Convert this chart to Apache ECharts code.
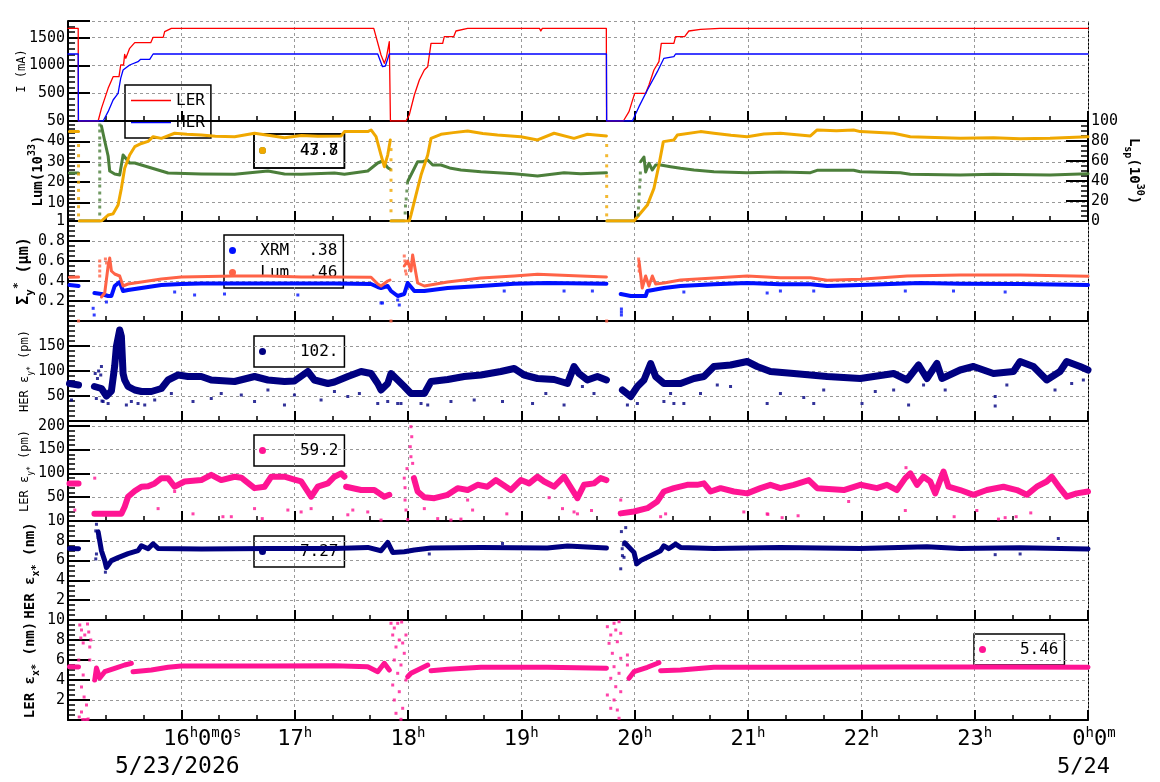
<!DOCTYPE html>
<html>
<head>
<meta charset="utf-8">
<script src="https://cdn.jsdelivr.net/npm/echarts@6.0.0/dist/echarts.min.js"></script>
<style>
html, body { margin: 0; padding: 0; background: #fff; }
#chart { width: 1160px; height: 782px; }
</style>
</head>
<body>
<div id="chart"></div>
<script>
// time is in hours of 5/23 (24 = 0h of 5/24)
const FONT = 'DejaVu Sans Mono'

// panel 1: beam currents (mA)
const lerCurrent = [[15,1668],[15.09,1668],[15.092,0],[15.266,0],[15.295,228],[15.354,588],[15.398,798],[15.45,800],[15.465,1008],[15.49,1010],[15.5,1200],[15.51,1130],[15.544,1308],[15.589,1410],[15.73,1410],[15.751,1506],[15.84,1506],[15.853,1608],[15.912,1668],[17.698,1668],[17.762,1188],[17.791,1038],[17.81,1150],[17.835,1428],[17.842,1420],[17.845,0],[17.982,0],[18.011,108],[18.056,468],[18.1,738],[18.144,918],[18.174,978],[18.203,1398],[18.306,1398],[18.32,1518],[18.403,1518],[18.423,1620],[18.526,1668],[19.16,1668],[19.172,1620],[19.185,1668],[19.75,1668],[19.752,0],[19.9,0],[19.95,168],[20,498],[20.097,498],[20.126,648],[20.17,918],[20.214,1068],[20.235,1398],[20.346,1398],[20.361,1518],[20.441,1518],[20.478,1620],[20.581,1650],[20.75,1668],[23.42,1668],[23.427,1640],[23.44,1668],[24,1668]]
const herCurrent = [[15,1206],[15.09,1206],[15.092,0],[15.31,0],[15.354,168],[15.398,378],[15.442,498],[15.465,768],[15.486,918],[15.544,1008],[15.618,1068],[15.641,1110],[15.721,1110],[15.751,1206],[17.733,1206],[17.775,978],[17.8,990],[17.835,1206],[19.751,1206],[19.753,0],[19.98,0],[20.038,258],[20.112,558],[20.2,888],[20.258,1128],[20.346,1158],[20.361,1206],[24,1206]]

// panel 2: luminosity (left) and specific luminosity (right)
const lum = [[15.013,44.8],[15.093,44.8],[15.095,null],[15.1,1],[15.295,1],[15.354,3.9],[15.398,4.5],[15.442,8.8],[15.471,17],[15.5,26.8],[15.544,33.3],[15.589,37.4],[15.648,39],[15.707,40],[15.751,42.3],[15.824,41.5],[15.941,44],[16.05,43.5],[16.176,43.1],[16.3,42.5],[16.47,42.3],[16.646,44],[16.78,42.9],[16.91,41.8],[17.06,42.9],[17.204,42.5],[17.41,42.7],[17.439,44.8],[17.645,44.8],[17.674,45.6],[17.718,42.3],[17.762,33.3],[17.791,27.6],[17.821,33.3],[17.844,40.7],[17.847,null],[17.85,1],[18.011,1],[18.026,3.9],[18.07,13.7],[18.115,23.5],[18.174,33.3],[18.203,41.5],[18.291,43.5],[18.4,44.3],[18.526,45.1],[18.66,43.9],[18.79,43.1],[18.996,42.3],[19.143,40.7],[19.289,44],[19.465,41.5],[19.583,43.5],[19.751,42.7],[19.753,null],[19.755,1],[19.994,1],[20.038,3.9],[20.112,8.8],[20.17,17],[20.214,28.4],[20.253,39.9],[20.346,40.7],[20.376,43.1],[20.581,44.8],[20.699,44],[20.85,43],[20.993,42.3],[21.14,43.6],[21.286,44],[21.551,42.7],[21.61,45.6],[21.78,45.2],[21.932,45.6],[21.991,44.8],[22.285,44],[22.432,42.3],[22.65,41.9],[22.872,41.5],[23.166,41.8],[23.4,41.3],[23.665,41.5],[24,42.3]]
const lsp = [[15.013,48],[15.093,48],[15.095,null],[15.1,0],[15.28,0],[15.282,null],[15.295,95],[15.324,80],[15.354,65],[15.368,50],[15.383,49],[15.412,47],[15.456,46],[15.486,66],[15.515,62],[15.544,58],[15.589,58],[15.736,53],[15.883,48],[16.176,47],[16.47,46.7],[16.764,50],[16.91,47],[17.057,46.7],[17.351,48],[17.439,46.7],[17.645,50],[17.733,58],[17.775,60],[17.821,53.3],[17.844,51.7],[17.847,null],[17.85,0],[17.967,0],[17.97,null],[17.999,40],[18.026,46],[18.056,52.7],[18.085,59.3],[18.13,59.3],[18.174,61],[18.218,56],[18.291,56],[18.379,52.7],[18.467,51],[18.643,49.3],[18.937,47.3],[19.143,45],[19.377,48.3],[19.524,47.3],[19.751,48.3],[19.753,null],[19.755,0],[19.991,0],[19.995,null],[20.053,59.3],[20.082,64],[20.097,49],[20.126,57.7],[20.156,51],[20.185,56],[20.229,56],[20.317,54.3],[20.405,52.7],[20.523,51],[20.699,49.3],[20.993,48.3],[21.286,49],[21.551,48.3],[21.61,50.7],[21.932,50.7],[21.991,49.3],[22.344,48.3],[22.432,46.7],[22.872,46],[23.166,46.7],[23.665,46],[24,47.3]]
const lumDrops = [[15.093,38],[15.093,33],[15.093,28],[15.093,24],[15.093,20],[15.093,16],[15.093,12],[15.093,8],[15.093,4],[17.85,36],[17.85,31],[17.85,26],[17.85,21],[17.85,16],[17.85,11],[17.85,6],[19.753,38],[19.753,33],[19.753,28],[19.753,23],[19.753,18],[19.753,13],[19.753,8],[19.753,4]]
const lspDrops = [[15.28,96],[15.28,90],[15.28,83],[15.28,76],[15.28,70],[15.28,63],[15.28,56],[15.28,49],[15.28,42],[15.28,35],[15.28,28],[15.28,21],[15.28,14],[15.28,7],[17.975,8],[17.978,15],[17.984,22],[17.99,30],[17.995,38],[20.03,6],[20.033,13],[20.036,20],[20.04,27],[20.044,34],[20.048,41],[20.05,48]]

// panel 3: vertical beam size (um)
const sigLum = [[15.013,0.437],[15.093,0.44],[15.095,null],[15.295,0.24],[15.324,0.28],[15.354,0.55],[15.368,0.63],[15.383,0.5],[15.412,0.47],[15.456,0.45],[15.486,0.35],[15.53,0.37],[15.648,0.39],[15.824,0.42],[16,0.44],[16.47,0.45],[16.764,0.45],[17.057,0.44],[17.351,0.44],[17.674,0.437],[17.733,0.37],[17.762,0.35],[17.821,0.4],[17.841,0.41],[17.845,null],[17.967,0.55],[17.997,0.6],[18.026,0.5],[18.041,0.66],[18.085,0.38],[18.144,0.35],[18.35,0.39],[18.643,0.43],[18.937,0.45],[19.143,0.467],[19.524,0.45],[19.751,0.44],[19.753,null],[20.038,0.6],[20.067,0.33],[20.097,0.45],[20.126,0.35],[20.156,0.45],[20.185,0.37],[20.258,0.38],[20.405,0.41],[20.699,0.43],[20.993,0.45],[21.286,0.433],[21.551,0.433],[21.698,0.407],[21.991,0.417],[22.403,0.45],[22.872,0.46],[23.401,0.46],[24,0.447]]
const sigXrm = [[15.013,0.36],[15.093,0.35],[15.095,null],[15.233,0.28],[15.295,0.27],[15.354,0.25],[15.383,0.25],[15.412,0.35],[15.456,0.39],[15.486,0.3],[15.53,0.31],[15.648,0.33],[15.824,0.36],[16,0.37],[16.176,0.375],[16.764,0.375],[17.351,0.375],[17.674,0.37],[17.733,0.34],[17.762,0.33],[17.821,0.35],[17.85,0.3],[17.909,0.25],[17.967,0.27],[17.997,0.38],[18.056,0.3],[18.144,0.3],[18.35,0.33],[18.643,0.35],[18.937,0.373],[19.229,0.38],[19.751,0.373],[19.753,null],[19.877,0.27],[19.965,0.25],[20.097,0.25],[20.112,0.3],[20.258,0.33],[20.405,0.35],[20.699,0.367],[20.993,0.38],[21.286,0.367],[21.551,0.367],[21.698,0.35],[21.991,0.36],[22.52,0.38],[22.872,0.373],[23.401,0.37],[24,0.36]]
const sigLumOut = [[15.28,0.6],[15.28,0.55],[15.28,0.5],[15.28,0.45],[15.33,0.62],[15.34,0.58],[17.967,0.65],[17.972,0.6],[17.978,0.5],[17.985,0.47],[20.035,0.62],[20.035,0.55],[20.04,0.5],[15.093,0],[17.85,0],[19.753,0]]
const sigXrmOut = [[15.222,0.127],[15.231,0.06],[15.339,0.19],[15.941,0.29],[16.117,0.26],[16.381,0.27],[17.028,0.26],[17.775,0.18],[17.909,0.21],[17.762,0.18],[17.923,0.16],[19.377,0.3],[19.627,0.3],[19.883,0.12],[19.883,0.06],[19.883,0.09],[18.849,0.3],[20.434,0.29],[21.169,0.28],[21.286,0.3],[21.58,0.3],[22.388,0.3],[22.813,0.3],[23.269,0.29]]

// panel 4: HER vertical emittance (pm)
const herEy = [[15.013,75],[15.093,72],[15.095,null],[15.233,69],[15.295,65],[15.339,50],[15.383,60],[15.412,110],[15.427,149],[15.456,182],[15.471,169],[15.486,95],[15.5,82],[15.53,69],[15.589,62],[15.648,59],[15.736,59],[15.824,65],[15.883,82],[15.971,92],[16.059,89],[16.176,89],[16.264,82],[16.47,79],[16.646,89],[16.764,82],[16.91,79],[16.998,80],[17.116,99],[17.174,82],[17.293,75],[17.351,78],[17.469,89],[17.586,99],[17.674,95],[17.733,75],[17.762,62],[17.821,75],[17.85,95],[17.909,82],[17.967,69],[18.026,55],[18.144,55],[18.203,79],[18.35,83],[18.496,89],[18.643,92],[18.819,99],[18.937,105],[19.025,92],[19.143,85],[19.289,83],[19.407,75],[19.465,109],[19.509,95],[19.583,82],[19.671,89],[19.751,82],[19.753,null],[19.892,62],[19.965,49],[20.024,69],[20.082,82],[20.141,115],[20.185,89],[20.258,75],[20.405,75],[20.523,85],[20.611,89],[20.699,109],[20.846,112],[20.993,119],[21.081,109],[21.198,99],[21.404,95],[21.698,89],[21.991,85],[22.285,95],[22.403,82],[22.505,112],[22.579,85],[22.667,115],[22.711,85],[22.872,102],[22.989,109],[23.166,95],[23.342,99],[23.401,119],[23.518,109],[23.636,82],[23.753,99],[23.812,119],[23.93,109],[24,102]]
const herEyOut = [[15.031,42],[15.295,109],[15.289,92],[15.31,39],[15.354,35],[15.515,32],[15.559,39],[15.618,35],[15.677,32],[15.765,42],[15.912,55],[16.103,39],[16.264,45],[16.352,55],[16.529,52],[16.646,39],[16.764,62],[16.91,32],[16.998,52],[17.233,42],[17.351,59],[17.469,49],[17.571,55],[17.733,35],[17.821,39],[17.909,35],[15.486,115],[17.938,35],[18.115,35],[18.174,32],[18.379,39],[18.584,42],[18.834,39],[19.099,35],[19.216,55],[19.377,32],[19.539,69],[19.641,55],[19.936,32],[20.024,35],[20.258,39],[20.346,35],[20.434,35],[20.581,55],[20.729,72],[20.846,69],[21.169,35],[21.286,55],[20.317,55],[21.492,47],[21.58,35],[21.668,62],[22.006,35],[22.123,59],[22.285,62],[22.417,32],[22.549,72],[22.74,62],[23.181,49],[23.181,30],[23.284,72],[23.709,62],[23.856,75],[23.959,82],[15.24,95],[15.26,85],[15.25,45],[15.27,100],[15.3,40]]

// panel 5: LER vertical emittance (pm)
const lerEy = [[15.013,79],[15.093,79],[15.095,null],[15.233,15],[15.383,15],[15.471,15],[15.5,30],[15.53,51],[15.589,63],[15.648,72],[15.707,73],[15.765,79],[15.824,90],[15.883,90],[15.941,72],[16.029,83],[16.176,86],[16.264,97],[16.352,86],[16.47,93],[16.529,91],[16.646,69],[16.734,72],[16.793,93],[16.91,93],[16.998,87],[17.057,83],[17.145,51],[17.204,72],[17.293,79],[17.351,93],[17.41,100],[17.439,93],[17.447,null],[17.454,72],[17.586,65],[17.703,65],[17.791,51],[17.835,55],[17.84,null],[18.052,90],[18.085,62],[18.144,50],[18.232,48],[18.35,55],[18.438,69],[18.526,65],[18.614,76],[18.7,72],[18.775,86],[18.907,65],[18.996,86],[19.069,79],[19.143,93],[19.201,83],[19.289,72],[19.377,93],[19.451,65],[19.495,48],[19.553,76],[19.641,79],[19.7,90],[19.751,86],[19.753,null],[19.877,16],[19.994,20],[20.112,27],[20.2,41],[20.258,62],[20.346,69],[20.464,76],[20.552,76],[20.611,79],[20.67,62],[20.758,69],[20.875,62],[20.993,58],[21.11,69],[21.198,76],[21.286,69],[21.404,76],[21.536,86],[21.61,69],[21.845,65],[21.991,76],[22.138,69],[22.226,76],[22.314,65],[22.388,90],[22.432,100],[22.491,76],[22.549,93],[22.608,83],[22.652,58],[22.725,104],[22.769,72],[22.872,65],[22.989,55],[23.107,65],[23.254,72],[23.372,65],[23.46,55],[23.548,72],[23.636,83],[23.68,93],[23.753,69],[23.812,51],[23.9,58],[24,62]]
const lerEyOut = [[18.026,198],[18.033,177],[18.02,156],[18.026,135],[18.041,121],[17.967,90],[17.974,70],[17.991,110],[17.974,44],[17.982,23],[17.997,3],[15.06,23],[15.236,90],[16.103,15],[16.367,9],[16.441,9],[16.646,26],[16.714,5],[16.94,23],[17.057,19],[17.145,26],[17.513,23],[17.645,19],[17.762,2],[17.469,13],[15.941,62],[15.795,26],[18.144,26],[18.262,5],[18.379,2],[18.467,4],[18.57,23],[18.872,15],[19.363,26],[19.465,19],[19.495,15],[19.619,22],[19.877,44],[20.229,9],[20.273,15],[20.963,19],[21.169,15],[19.245,49],[18.526,44],[21.175,14],[21.301,7],[21.442,11],[21.888,41],[22.388,22],[22.819,9],[23.019,22],[23.21,4],[23.269,7],[23.366,9],[23.495,17],[22.394,112]]

// panel 6: HER horizontal emittance (nm)
const herEx = [[15.013,7.23],[15.093,7.2],[15.095,null],[15.266,8.9],[15.295,7],[15.324,6],[15.339,5.3],[15.383,6],[15.442,6.3],[15.53,6.7],[15.618,7],[15.648,7.5],[15.707,7.2],[15.751,7.7],[15.795,7.23],[16.176,7.17],[16.764,7.23],[17.351,7.23],[17.645,7.33],[17.762,7],[17.821,7.83],[17.865,6.83],[17.967,6.9],[18.056,7.07],[18.203,7.27],[18.643,7.33],[19.229,7.27],[19.407,7.47],[19.751,7.27],[19.753,null],[19.912,7.8],[19.994,6.83],[20.018,5.67],[20.053,6],[20.141,6.5],[20.229,7],[20.258,7.5],[20.3,7.2],[20.361,7.67],[20.405,7.33],[20.699,7.23],[21.286,7.33],[21.991,7.23],[22.579,7.4],[22.872,7.23],[23.401,7.3],[24,7.17]]
const herExOut = [[15.251,9.67],[15.245,9],[15.266,8.33],[15.251,6.67],[15.245,6.17],[15.33,4.83],[19.883,8.93],[19.921,9.33],[19.892,6.5],[19.877,5.17],[19.906,6.33],[19.9,7.6],[19.89,7.2],[18.188,6.67],[18.834,7.73],[23.738,8.23],[23.181,6.6],[23.401,6.67]]

// panel 7: LER horizontal emittance (nm)
const lerEx = [[15.013,5.33],[15.093,5.3],[15.095,null],[15.236,4],[15.251,5.2],[15.28,4.2],[15.324,4.83],[15.412,5.17],[15.5,5.5],[15.559,5.67],[15.566,null],[15.574,4.83],[15.736,5],[15.883,5.27],[16,5.4],[16.764,5.4],[17.351,5.43],[17.645,5.33],[17.733,4.83],[17.791,5.67],[17.835,5],[17.84,null],[17.997,4.33],[18.026,4.67],[18.085,5],[18.174,5.5],[18.19,null],[18.203,4.93],[18.35,5.07],[18.643,5.27],[19.229,5.27],[19.751,5.17],[19.753,null],[19.95,4.17],[19.994,4.83],[20.112,5.27],[20.214,5.73],[20.22,null],[20.229,4.93],[20.405,5],[20.699,5.27],[21.463,5.27],[22.344,5.3],[23.225,5.3],[24,5.27]]
const lerExOut = [[15.104,9.5],[15.119,9],[15.113,8.2],[15.134,7.7],[15.148,8.5],[15.172,9.6],[15.183,8.8],[15.192,7.3],[15.095,6],[15.134,4.5],[15.119,3.3],[15.142,2.3],[15.163,1.5],[15.119,0.8],[15.099,0.3],[15.178,0.1],[15.192,6],[15.201,8],[15.13,0.05],[15.15,0.05],[15.17,0.05],[17.85,9.67],[17.879,9.2],[17.909,9.67],[17.944,9.8],[17.865,8.5],[17.923,8],[17.894,7.3],[17.953,7.7],[17.982,8.5],[17.879,6],[17.938,5.5],[17.909,4.67],[17.865,3.5],[17.923,2.83],[17.879,2],[17.953,1.17],[17.894,0.67],[17.938,0.07],[17.967,6.67],[17.982,4],[19.759,9.33],[19.818,9.67],[19.862,9.83],[19.789,8.5],[19.833,9],[19.877,8.67],[19.774,7.67],[19.847,7.83],[19.803,6.67],[19.877,6.17],[19.936,6.5],[19.818,5.33],[19.862,4.67],[19.789,4.17],[19.833,3.33],[19.877,2.83],[19.759,2.5],[19.818,2],[19.789,1.17],[19.847,1],[19.862,0.17],[19.936,5.5]]

const TOPS = [21, 121, 221, 321, 421, 521, 620]
const HEIGHTS = [100, 100, 100, 100, 100, 99, 100]

const chart = echarts.init(document.getElementById('chart'))

function nameStyle(size, bold) {
  const w = bold ? 'bold' : 'normal'
  return {
    fontFamily: FONT, fontSize: size, fontWeight: w, color: '#000', lineHeight: size + 8,
    rich: {
      sup: { fontFamily: FONT, fontSize: Math.round(size * 0.7), fontWeight: w, color: '#000', verticalAlign: 'top', lineHeight: 10 },
      sub: { fontFamily: FONT, fontSize: Math.round(size * 0.7), fontWeight: w, color: '#000', verticalAlign: 'bottom', lineHeight: 10 }
    }
  }
}

function yAx(grid, o) {
  return {
    gridIndex: grid,
    type: 'value',
    min: o.min,
    max: o.max,
    interval: o.interval,
    position: o.position || 'left',
    axisLine: { show: true, onZero: false, lineStyle: { color: '#000', width: 2 } },
    axisTick: { show: true, inside: true, length: 22, lineStyle: { color: '#000', width: 2 } },
    minorTick: { show: true, splitNumber: o.minor || 4, length: 7, lineStyle: { color: '#000', width: 1.5 } },
    axisLabel: {
      color: '#000', fontFamily: FONT, fontSize: 15, margin: 3,
      showMinLabel: o.showMin, showMaxLabel: o.showMax,
      formatter: v => String(+v.toFixed(2))
    },
    splitLine: { show: o.split !== false, lineStyle: { color: '#999', type: [3, 3], width: 1 } },
    name: o.name,
    nameLocation: 'middle',
    nameRotate: o.rotate || 90,
    nameGap: o.gap,
    nameMoveOverlap: false,
    nameTextStyle: nameStyle(o.size, o.bold)
  }
}

// dashed right edge for panels without a right axis
function edge(grid) {
  return {
    gridIndex: grid, type: 'value', position: 'right', min: 0, max: 1,
    axisLine: { show: true, lineStyle: { color: '#000', width: 1, type: [2, 2] } },
    axisTick: { show: false }, axisLabel: { show: false }, splitLine: { show: false }
  }
}

function hourLabel(v) {
  if (v === 16) return '{p| }{n|16}{s|h}{n|0}{s|m}{n|0}{s|s}'
  if (v === 24) return '{q| }{n|0}{s|h}{n|0}{s|m}'
  if (v > 16 && v < 24) return '{n|' + v + '}{s|h}'
  return ''
}

const xAxes = TOPS.map((t, i) => ({
  gridIndex: i,
  type: 'value',
  min: 15,
  max: 24,
  interval: 1,
  axisLine: { show: true, onZero: false, lineStyle: { color: '#000', width: 2 } },
  axisTick: { show: true, inside: true, length: 10, lineStyle: { color: '#000', width: 2 } },
  minorTick: { show: true, splitNumber: 3, length: 5, lineStyle: { color: '#000', width: 1.5 } },
  splitLine: { show: true, lineStyle: { color: '#999', type: [3, 3], width: 1 } },
  axisLabel: i === 6 ? {
    formatter: hourLabel,
    margin: 6,
    showMinLabel: false,
    rich: {
      n: { fontFamily: FONT, fontSize: 22, color: '#000', lineHeight: 26 },
      s: { fontFamily: FONT, fontSize: 14, color: '#000', verticalAlign: 'top', lineHeight: 14 },
      p: { width: 42 },
      q: { width: 12 }
    }
  } : { show: false }
}))
// top border of the first panel
xAxes.push({
  gridIndex: 0, type: 'value', position: 'top', min: 15, max: 24,
  axisLine: { show: true, lineStyle: { color: '#000', width: 2 } },
  axisTick: { show: false }, axisLabel: { show: false }, splitLine: { show: false }
})

const yAxes = [
  yAx(0, { min: 0, max: 1800, interval: 500, minor: 5, showMin: false, showMax: false, name: 'I (mA)', gap: 36, size: 12 }),
  yAx(1, { min: 1, max: 50, minor: 5, showMin: true, showMax: true, name: 'Lum(10{sup|33})', gap: 19, size: 14, bold: true }),
  yAx(1, { min: 0, max: 100, interval: 20, minor: 4, position: 'right', showMin: true, showMax: true, split: false, name: 'L{sub|sp}(10{sup|30})', gap: 35, size: 14, bold: true, rotate: -90 }),
  yAx(2, { min: 0, max: 1, interval: 0.2, minor: 4, showMin: false, showMax: false, name: 'Σ{sub|y}{sup|*} (μm)', gap: 32, size: 15, bold: true }),
  yAx(3, { min: 0, max: 200, interval: 50, minor: 5, showMin: false, showMax: false, name: 'HER ε{sub|y*} (pm)', gap: 33, size: 12 }),
  yAx(4, { min: 0, max: 210, interval: 50, minor: 5, showMin: false, showMax: false, name: 'LER ε{sub|y*} (pm)', gap: 33, size: 12 }),
  yAx(5, { min: 0, max: 10, interval: 2, minor: 4, showMin: false, showMax: true, name: 'HER ε{sub|x*} (nm)', gap: 27, size: 14, bold: true }),
  yAx(6, { min: 0, max: 10, interval: 2, minor: 4, showMin: false, showMax: true, name: 'LER ε{sub|x*} (nm)', gap: 27, size: 14, bold: true }),
  edge(0), edge(2), edge(3), edge(4), edge(5), edge(6)
]

function band(name, data, grid, yIdx, color, width) {
  return {
    name, type: 'line', data, xAxisIndex: grid, yAxisIndex: yIdx, symbol: 'none', color,
    lineStyle: { color, width, cap: 'round', join: 'round' }, animation: false, z: 3
  }
}

function dots(name, data, grid, yIdx, color, size) {
  return {
    name, type: 'scatter', data, xAxisIndex: grid, yAxisIndex: yIdx, symbol: 'rect',
    symbolSize: size || 3, itemStyle: { color }, animation: false, z: 3
  }
}

const ORANGE = '#F0A800'
const GREEN = '#4C7F3B'
const TOMATO = '#FF6347'
const BLUE = '#0010FF'
const NAVY = '#000080'
const PINK = '#FF1493'

const series = [
  band('LER', lerCurrent, 0, 0, '#FF0000', 1.3),
  band('HER', herCurrent, 0, 0, '#0000FF', 1.3),
  band('47.8', lsp, 1, 2, GREEN, 3),
  dots('lspDrops', lspDrops, 1, 2, GREEN, 3),
  band('43.7', lum, 1, 1, ORANGE, 3),
  dots('lumDrops', lumDrops, 1, 1, ORANGE, 3),
  band('XRM  .38', sigXrm, 2, 3, BLUE, 4),
  dots('xrmOut', sigXrmOut, 2, 3, BLUE, 3),
  band('Lum  .46', sigLum, 2, 3, TOMATO, 3),
  dots('lumOut', sigLumOut, 2, 3, TOMATO, 3),
  band('102.', herEy, 3, 4, NAVY, 7),
  dots('herEyOut', herEyOut, 3, 4, NAVY, 3),
  band('59.2', lerEy, 4, 5, PINK, 6),
  dots('lerEyOut', lerEyOut, 4, 5, PINK, 3),
  band('7.27', herEx, 5, 6, NAVY, 5),
  dots('herExOut', herExOut, 5, 6, NAVY, 3),
  band('5.46', lerEx, 6, 7, PINK, 5),
  dots('lerExOut', lerExOut, 6, 7, PINK, 3)
]

function dotLegend(names, left, top, opts) {
  return Object.assign({
    data: names,
    orient: 'vertical',
    left, top,
    padding: [6, 6, 6, 5],
    itemGap: 3,
    icon: 'circle',
    itemWidth: 7,
    itemHeight: 7,
    borderColor: '#000',
    borderWidth: 1.5,
    selectedMode: false,
    z: 0,
    formatter: n => '   ' + n,
    textStyle: { fontFamily: FONT, fontSize: 16, color: '#000', lineHeight: 19 }
  }, opts || {})
}

const legends = [
  {
    data: ['LER', 'HER'], orient: 'vertical', left: 125, top: 85,
    padding: [6, 6, 6, 6], itemGap: 3, icon: 'rect', itemWidth: 40, itemHeight: 1.5,
    borderColor: '#000', borderWidth: 1.5, selectedMode: false, z: 0,
    textStyle: { fontFamily: FONT, fontSize: 16, color: '#000', lineHeight: 19 }
  },
  dotLegend(['47.8'], 254, 134, { padding: [7, 6, 8, 5] }),
  dotLegend(['43.7'], 254, 134, { padding: [7, 6, 8, 5] }),
  dotLegend(['XRM  .38', 'Lum  .46'], 224, 235, { formatter: n => '  ' + n }),
  dotLegend(['102.'], 254, 336),
  dotLegend(['59.2'], 254, 435),
  dotLegend(['7.27'], 254, 536),
  dotLegend(['5.46'], 974, 634)
]

chart.setOption({
  animation: false,
  backgroundColor: '#fff',
  grid: TOPS.map((t, i) => ({ left: 68, width: 1020, top: t, height: HEIGHTS[i], outerBoundsMode: 'none' })),
  xAxis: xAxes,
  yAxis: yAxes,
  legend: legends,
  series,
  graphic: [
    { type: 'text', left: 115, top: 756, style: { text: '5/23/2026', font: '23px "DejaVu Sans Mono"', fill: '#000' } },
    { type: 'text', left: 1057, top: 756, style: { text: '5/24', font: '22px "DejaVu Sans Mono"', fill: '#000' } }
  ]
})
</script>
</body>
</html>
